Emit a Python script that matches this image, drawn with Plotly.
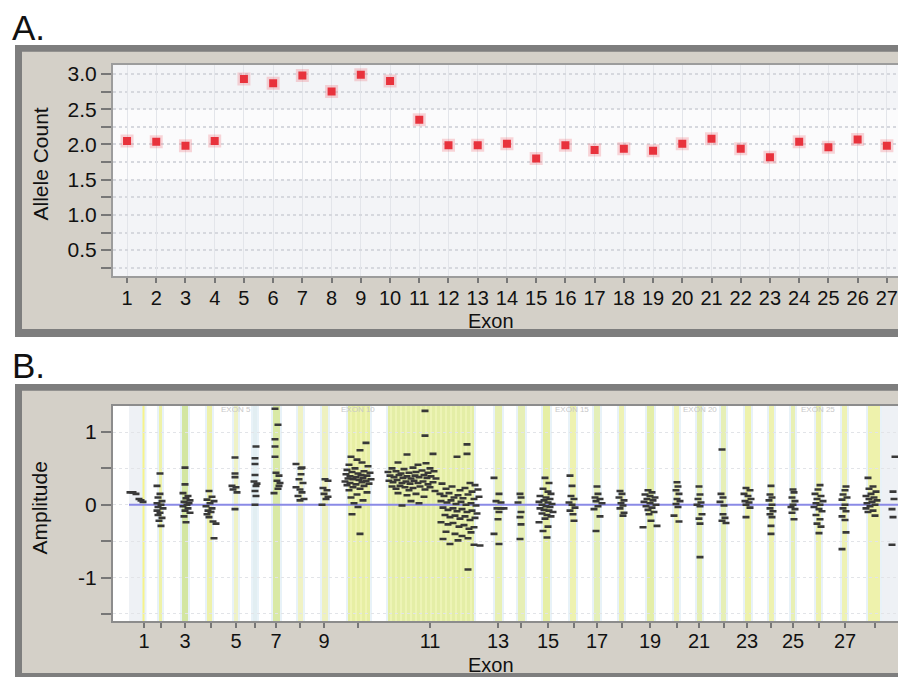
import plotly.graph_objects as go

# Reference canvas is 906x677; the page body adds an 8px margin, so the
# figure itself is 8px smaller and all pixel positions are shifted by 8.
REF_W, REF_H = 906, 677
OFF = 8
W, H = REF_W - OFF, REF_H - OFF
FONT = "Liberation Sans, Arial, sans-serif"

# ---------------- Panel A data ----------------
EXONS_A = list(range(1, 28))
ALLELE_COUNT = [2.05, 2.04, 1.98, 2.05, 2.93, 2.87, 2.98, 2.75, 2.99, 2.90,
                2.35, 1.99, 1.99, 2.01, 1.80, 1.99, 1.92, 1.94, 1.91, 2.01,
                2.08, 1.94, 1.82, 2.04, 1.96, 2.07, 1.98]
A_YTICKS = [0.5, 1.0, 1.5, 2.0, 2.5, 3.0]
A_YTICK_TEXT = ["0.5", "1.0", "1.5", "2.0", "2.5", "3.0"]

# ---------------- Panel B data ----------------
B_TICK_EXON = [1, 2, 3, 4, 5, 6, 7, 8, 9, 10, 11, 13, 14, 15, 16, 17, 18, 19, 20,
               21, 22, 23, 24, 25, 26, 27, 28]
B_TICK_POS = [144, 161, 185, 211, 236, 255, 276, 300, 324, 358, 430, 498, 521, 548,
              574, 597, 622, 650, 677, 699, 724, 747, 771, 793, 819, 845, 875]
B_TICK_TEXT = [str(e) if e % 2 == 1 else "" for e in B_TICK_EXON]

BAND_START = [142.5, 159, 182, 207, 234, 253, 273, 298, 322, 348, 388, 495, 518, 543,
              570, 594, 619, 647, 674, 697, 721, 745, 769, 791, 816, 842, 868]
BAND_END = [144.5, 162, 188, 212, 238, 257, 280, 303, 328, 370, 474, 502, 525, 550,
            576, 600, 624, 654, 679, 702, 726, 751, 774, 795, 821, 847, 880]
BAND_COLOR = ["#f6f38a", "#eef2a8", "#d3e6a2", "#eef1aa", "#eff2c6", "#e2eef2", "#d9e9a6",
              "#f0f2c4", "#eef1c0", "#e7efa4", "#e4eea6", "#e8f0b4", "#e6efb6", "#e6efa6",
              "#eef2b0", "#e4efb8", "#eef2b4", "#e4eea8", "#eef2b8", "#e6efb4", "#e6efb6",
              "#eef2ac", "#eef2b0", "#e8f0b4", "#eef2ae", "#eef2b4", "#eef2ac"]
END_REGIONS = [(129, 142), (880, 899)]
TOP_LABELS = ["EXON 5", "EXON 10", "EXON 15", "EXON 20", "EXON 25"]
TOP_LABEL_POS = [236, 358, 572, 700, 818]

E01 = [(130, 0.17), (133, 0.17), (136, 0.15), (139, 0.08), (141, 0.06), (143, 0.04)]
E02 = [(160, 0.43), (157, 0.26), (160, 0.15), (158, 0.10), (162, 0.05), (157, 0.02),
       (161, 0.0), (158, -0.03), (163, -0.05), (157, -0.08), (160, -0.11), (158, -0.14),
       (162, -0.18), (159, -0.22), (161, -0.29)]
E03 = [(185, 0.51), (185, 0.28), (183, 0.16), (188, 0.12), (186, 0.09), (190, 0.06),
       (184, 0.04), (189, 0.02), (187, 0.0), (183, -0.02), (188, -0.05), (185, -0.08),
       (190, -0.11), (184, -0.16), (186, -0.24)]
E04 = [(209, 0.19), (212, 0.11), (207, 0.07), (214, 0.05), (210, 0.02), (206, -0.02),
       (212, -0.05), (208, -0.08), (211, -0.10), (207, -0.13), (209, -0.17), (213, -0.23),
       (216, -0.26), (214, -0.46)]
E05 = [(235, 0.65), (235, 0.43), (235, 0.38), (232, 0.26), (236, 0.24), (233, 0.21),
       (237, 0.17), (235, -0.06)]
E06 = [(256, 0.80), (255, 0.64), (255, 0.56), (255, 0.41), (254, 0.32), (257, 0.29),
       (256, 0.26), (255, 0.19), (256, 0.12), (255, 0.0)]
E07 = [(275, 1.32), (278, 1.10), (275, 0.90), (275, 0.80), (275, 0.66), (276, 0.44),
       (279, 0.40), (277, 0.33), (280, 0.30), (279, 0.26), (278, 0.22), (274, 0.16)]
E08 = [(296, 0.56), (302, 0.51), (301, 0.50), (301, 0.42), (299, 0.35), (303, 0.30),
       (296, 0.24), (300, 0.21), (302, 0.17), (298, 0.12), (304, 0.08), (300, 0.06)]
E09 = [(325, 0.35), (328, 0.33), (323, 0.23), (327, 0.20), (324, 0.15), (328, 0.11),
       (326, 0.08), (322, 0.0)]
E10 = [(366, 0.85), (360, 0.75), (351, 0.66), (357, 0.62), (362, 0.58), (349, 0.55),
       (368, 0.53), (355, 0.50), (347, 0.48), (364, 0.46), (352, 0.45), (370, 0.44),
       (358, 0.43), (346, 0.42), (361, 0.41), (367, 0.40), (350, 0.39), (356, 0.38),
       (363, 0.37), (348, 0.36), (371, 0.35), (353, 0.35), (359, 0.34), (366, 0.33),
       (345, 0.32), (362, 0.31), (350, 0.30), (369, 0.29), (356, 0.28), (347, 0.27),
       (364, 0.26), (353, 0.24), (360, 0.22), (349, 0.20), (367, 0.17), (357, 0.14),
       (351, 0.10), (363, 0.06), (354, 0.02), (358, -0.03), (352, -0.13), (360, -0.40)]
E11 = [(425, 1.29), (425, 0.95), (407, 0.69), (433, 0.70), (398, 0.58), (418, 0.55),
       (426, 0.57), (392, 0.50), (404, 0.49), (413, 0.51), (430, 0.50), (388, 0.45),
       (396, 0.46), (401, 0.43), (409, 0.44), (416, 0.45), (422, 0.47), (428, 0.44),
       (434, 0.46), (390, 0.40), (394, 0.38), (399, 0.41), (403, 0.37), (407, 0.39),
       (411, 0.36), (415, 0.40), (419, 0.38), (424, 0.41), (427, 0.37), (431, 0.39),
       (436, 0.36), (389, 0.33), (393, 0.31), (397, 0.34), (402, 0.30), (406, 0.32),
       (410, 0.29), (414, 0.33), (418, 0.30), (423, 0.32), (428, 0.28), (433, 0.31),
       (392, 0.25), (396, 0.22), (400, 0.26), (405, 0.24), (409, 0.20), (413, 0.23),
       (420, 0.25), (425, 0.21), (430, 0.24), (435, 0.19), (398, 0.16), (407, 0.13),
       (416, 0.15), (424, 0.11), (411, 0.05), (419, 0.02), (402, -0.01)]
E12 = [(467, 0.83), (467, 0.70), (457, 0.66), (442, 0.29), (470, 0.30), (475, 0.27),
       (446, 0.22), (452, 0.25), (460, 0.20), (465, 0.23), (472, 0.18), (478, 0.21),
       (440, 0.15), (444, 0.12), (449, 0.16), (454, 0.10), (458, 0.13), (463, 0.09),
       (468, 0.14), (474, 0.08), (479, 0.11), (441, 0.05), (447, 0.03), (451, 0.06),
       (456, 0.01), (461, 0.04), (466, 0.0), (471, 0.02), (476, -0.01), (443, -0.04),
       (448, -0.07), (453, -0.05), (457, -0.09), (462, -0.06), (467, -0.10), (472, -0.08),
       (477, -0.12), (445, -0.14), (450, -0.17), (455, -0.15), (460, -0.19), (465, -0.16),
       (470, -0.21), (475, -0.18), (441, -0.24), (448, -0.27), (453, -0.25), (459, -0.30),
       (464, -0.28), (469, -0.33), (474, -0.31), (446, -0.37), (455, -0.40), (462, -0.43),
       (471, -0.38), (443, -0.47), (450, -0.54), (458, -0.49), (468, -0.46), (474, -0.55),
       (480, -0.56), (468, -0.89)]
E13 = [(494, 0.37), (499, 0.15), (496, 0.05), (501, 0.03), (497, -0.05), (501, -0.05),
       (504, -0.05), (499, -0.10), (498, -0.20), (494, -0.40), (499, -0.54)]
E14 = [(520, 0.15), (521, 0.10), (518, 0.03), (521, -0.10), (520, -0.17), (521, -0.27),
       (520, -0.47)]
E15 = [(545, 0.37), (549, 0.30), (543, 0.22), (548, 0.18), (551, 0.15), (540, 0.12),
       (546, 0.10), (550, 0.08), (544, 0.06), (539, 0.04), (548, 0.03), (552, 0.01),
       (542, 0.0), (546, -0.02), (550, -0.03), (540, -0.05), (544, -0.07), (549, -0.08),
       (553, -0.10), (542, -0.12), (547, -0.14), (551, -0.16), (545, -0.19), (539, -0.24),
       (548, -0.30), (543, -0.36), (547, -0.45)]
E16 = [(570, 0.40), (572, 0.26), (571, 0.12), (574, 0.08), (569, 0.03), (572, 0.0),
       (575, -0.04), (570, -0.08), (573, -0.13), (574, -0.22)]
E17 = [(597, 0.25), (598, 0.15), (595, 0.10), (600, 0.08), (596, 0.05), (602, 0.02),
       (598, -0.02), (594, -0.06), (600, -0.16), (596, -0.36)]
E18 = [(620, 0.19), (622, 0.15), (619, 0.10), (624, 0.06), (621, 0.02), (623, -0.01),
       (620, -0.05), (624, -0.11), (623, -0.15)]
E19 = [(648, 0.20), (652, 0.17), (645, 0.14), (650, 0.12), (655, 0.10), (647, 0.08),
       (653, 0.06), (644, 0.04), (650, 0.02), (656, 0.0), (646, -0.02), (652, -0.04),
       (648, -0.07), (654, -0.10), (649, -0.13), (651, -0.22), (657, -0.29), (643, -0.31)]
E20 = [(677, 0.31), (678, 0.25), (676, 0.20), (679, 0.15), (677, 0.08), (680, 0.05),
       (676, 0.01), (678, -0.03), (674, -0.15), (679, -0.23)]
E21 = [(699, 0.25), (700, 0.14), (698, 0.08), (701, 0.03), (697, 0.0), (700, -0.02),
       (702, -0.13), (699, -0.19), (700, -0.26), (700, -0.72)]
E22 = [(722, 0.76), (721, 0.15), (723, 0.10), (720, 0.04), (724, -0.01), (723, -0.13),
       (725, -0.18), (722, -0.22), (726, -0.25)]
E23 = [(746, 0.23), (750, 0.20), (744, 0.15), (748, 0.12), (751, 0.08), (745, 0.05),
       (749, 0.03), (746, 0.0), (750, -0.04), (746, -0.17)]
E24 = [(771, 0.26), (770, 0.14), (772, 0.10), (769, 0.06), (772, 0.0), (770, -0.05),
       (773, -0.09), (770, -0.13), (772, -0.17), (771, -0.29), (771, -0.40)]
E25 = [(793, 0.21), (794, 0.17), (792, 0.10), (795, 0.05), (793, 0.0), (791, -0.03),
       (795, -0.06), (792, -0.11), (794, -0.20)]
E26 = [(820, 0.27), (818, 0.21), (815, 0.15), (821, 0.12), (817, 0.08), (823, 0.05),
       (816, 0.02), (820, 0.0), (814, -0.03), (819, -0.06), (822, -0.09), (816, -0.14),
       (820, -0.20), (817, -0.26), (821, -0.30), (819, -0.39)]
E27 = [(846, 0.25), (845, 0.20), (843, 0.14), (847, 0.10), (842, 0.07), (845, 0.0),
       (843, -0.05), (846, -0.09), (842, -0.16), (845, -0.21), (846, -0.38), (842, -0.61)]
E28 = [(868, 0.37), (873, 0.25), (869, 0.22), (876, 0.18), (871, 0.15), (866, 0.12),
       (874, 0.10), (869, 0.08), (877, 0.06), (872, 0.04), (867, 0.02), (875, 0.0),
       (870, -0.02), (866, -0.05), (873, -0.08), (868, -0.10), (875, -0.15)]
E_END = [(895, 0.66), (893, 0.18), (894, 0.08), (892, -0.06), (893, -0.17), (892, -0.55)]

CLUSTERS = [E01, E02, E03, E04, E05, E06, E07, E08, E09, E10, E11, E12, E13, E14,
            E15, E16, E17, E18, E19, E20, E21, E22, E23, E24, E25, E26, E27, E28, E_END]
B_POS = [p for c in CLUSTERS for p, _ in c]
B_AMP = [a for c in CLUSTERS for _, a in c]

# ---------------- layout geometry (reference pixels) ----------------
def px(x):
    return (x - OFF) / W

def py(y):
    return 1 - (y - OFF) / H

A_L, A_R, A_T, A_B = 113, 900, 63, 275
B_L, B_R, B_T, B_B = 113, 899, 405, 621

fig = go.Figure()

# Panel A markers (halo + core)
fig.add_trace(go.Scatter(x=EXONS_A, y=ALLELE_COUNT, mode="markers", xaxis="x", yaxis="y",
                         marker=dict(symbol="square", size=13, color="rgba(240,120,130,0.30)",
                                     line=dict(width=0)),
                         hoverinfo="skip", showlegend=False))
fig.add_trace(go.Scatter(x=EXONS_A, y=ALLELE_COUNT, mode="markers", xaxis="x", yaxis="y",
                         marker=dict(symbol="square", size=8, color="#e8323c",
                                     line=dict(width=0)),
                         showlegend=False))

# Panel B points
fig.add_trace(go.Scatter(x=B_POS, y=B_AMP, mode="markers", xaxis="x2", yaxis="y2",
                         marker=dict(symbol="line-ew", size=5,
                                     line=dict(width=2.6, color="#383838")),
                         showlegend=False))

shapes = []
# Frames
for (t, b) in [(43, 336), (383, 690)]:
    shapes.append(dict(type="rect", xref="paper", yref="paper", layer="below",
                       x0=px(15), x1=px(920), y0=py(b), y1=py(t),
                       fillcolor="#7e7e7e", line=dict(width=0)))
for (t, b) in [(50, 328), (390, 673)]:
    shapes.append(dict(type="rect", xref="paper", yref="paper", layer="below",
                       x0=px(22), x1=px(920), y0=py(b), y1=py(t),
                       fillcolor="#d4d0c8", line=dict(width=0)))
# Plot backgrounds
shapes.append(dict(type="rect", xref="paper", yref="paper", layer="below",
                   x0=px(A_L), x1=px(A_R), y0=py(A_B), y1=py(A_T),
                   fillcolor="#f3f4f7", line=dict(width=0)))
shapes.append(dict(type="rect", xref="x domain", yref="y", layer="below",
                   x0=0, x1=1, y0=1.5, y1=2.5, fillcolor="#fbfbfc", line=dict(width=0)))
shapes.append(dict(type="rect", xref="paper", yref="paper", layer="below",
                   x0=px(B_L), x1=px(B_R), y0=py(B_B), y1=py(B_T),
                   fillcolor="#ffffff", line=dict(width=0)))

# Panel B bands
for (s, e) in END_REGIONS:
    shapes.append(dict(type="rect", xref="x2", yref="y2 domain", layer="below",
                       x0=s, x1=e, y0=0, y1=1, fillcolor="#eef1f5", line=dict(width=0)))
for s, e, c in zip(BAND_START, BAND_END, BAND_COLOR):
    shapes.append(dict(type="rect", xref="x2", yref="y2 domain", layer="below",
                       x0=s - 2, x1=e + 2, y0=0, y1=1, fillcolor="#e8f2f8",
                       line=dict(width=0)))
    shapes.append(dict(type="rect", xref="x2", yref="y2 domain", layer="below",
                       x0=s, x1=e, y0=0, y1=1, fillcolor=c, line=dict(width=0)))
# subtle stripes in wide bands
for s, e in [(BAND_START[9], BAND_END[9]), (BAND_START[10], BAND_END[10])]:
    k = s + 3
    while k < e - 1:
        shapes.append(dict(type="line", xref="x2", yref="y2 domain", layer="below",
                           x0=k, x1=k, y0=0, y1=1,
                           line=dict(color="rgba(255,255,210,0.7)", width=1)))
        k += 5

# Zero line (between grid and data points)
shapes.append(dict(type="line", xref="x2", yref="y2", layer="between",
                   x0=END_REGIONS[0][0], x1=B_R, y0=0, y1=0,
                   line=dict(color="#8a8ae6", width=2)))


def note(text, x, y, size, angle=0, xanchor="center", color="#111", xref="paper"):
    return dict(text=text, x=x, y=y, xref=xref, yref="paper", xanchor=xanchor,
                yanchor="middle", textangle=angle, showarrow=False,
                font=dict(family=FONT, size=size, color=color))


annotations = [
    note("A.", px(10), py(26), 35, xanchor="left"),
    note("B.", px(10), py(365), 35, xanchor="left"),
    note("Allele Count", px(41), py(163), 21, angle=-90),
    note("Amplitude", px(40), py(508), 21, angle=-90),
    note("Exon", px(491), py(320), 20),
    note("Exon", px(491), py(665), 20),
]
for lab, pos in zip(TOP_LABELS, TOP_LABEL_POS):
    annotations.append(note(lab, pos, py(409), 8, color="#c8c8c8", xref="x2"))

ytick_font = dict(family=FONT, size=21, color="#111")
xtick_font = dict(family=FONT, size=20, color="#111")

fig.update_layout(
    width=W, height=H, margin=dict(l=0, r=0, t=0, b=0),
    paper_bgcolor="white", plot_bgcolor="rgba(0,0,0,0)",
    showlegend=False, shapes=shapes, annotations=annotations,
    xaxis=dict(domain=[px(A_L), px(A_R)], anchor="y", range=[0.52, 27.45],
               tickmode="array", tickvals=EXONS_A, ticktext=[str(e) for e in EXONS_A],
               ticks="outside", ticklen=5, tickwidth=1.5, tickcolor="#777",
               ticklabelstandoff=-2,
               tickfont=xtick_font, showgrid=True, gridcolor="#e3e5ea", gridwidth=1,
               showline=True, linecolor="#9c9c9c", linewidth=2, mirror=True,
               zeroline=False, fixedrange=True),
    yaxis=dict(domain=[py(A_B), py(A_T)], anchor="x", range=[0.13, 3.13],
               tickmode="array", tickvals=A_YTICKS, ticktext=A_YTICK_TEXT,
               ticks="outside", ticklen=10, tickwidth=1.5, tickcolor="#777",
               tickfont=ytick_font, showgrid=True, gridcolor="#d6d8de", griddash="dot",
               gridwidth=1.5,
               minor=dict(tickmode="linear", tick0=0.25, dtick=0.5, ticks="outside",
                          ticklen=10, tickwidth=1.5, tickcolor="#777", showgrid=True,
                          gridcolor="#d6d8de", griddash="dot", gridwidth=1.5),
               showline=True, linecolor="#9c9c9c", linewidth=2, mirror=True,
               zeroline=False, fixedrange=True),
    xaxis2=dict(domain=[px(B_L), px(B_R)], anchor="y2", range=[B_L, B_R],
                tickmode="array", tickvals=B_TICK_POS, ticktext=B_TICK_TEXT,
                ticks="outside", ticklen=5, tickwidth=1.5, tickcolor="#777",
                ticklabelstandoff=-4,
                tickfont=xtick_font, showgrid=False,
                showline=True, linecolor="#8c8c8c", linewidth=2, mirror=True,
                zeroline=False, fixedrange=True),
    yaxis2=dict(domain=[py(B_B), py(B_T)], anchor="x2", range=[-1.6, 1.36],
                tickmode="array", tickvals=[-1, 0, 1], ticktext=["-1", "0", "1"],
                ticks="outside", ticklen=10, tickwidth=1.5, tickcolor="#777",
                tickfont=ytick_font, showgrid=True, gridcolor="#e2e4e8", griddash="dot",
                gridwidth=1,
                minor=dict(tickmode="linear", tick0=0.5, dtick=1, ticks="outside",
                           ticklen=10, tickwidth=1.5, tickcolor="#777", showgrid=True,
                           gridcolor="#e2e4e8", griddash="dot", gridwidth=1),
                showline=True, linecolor="#8c8c8c", linewidth=2, mirror=True,
                zeroline=False, fixedrange=True),
)

fig.write_html("out.html")
